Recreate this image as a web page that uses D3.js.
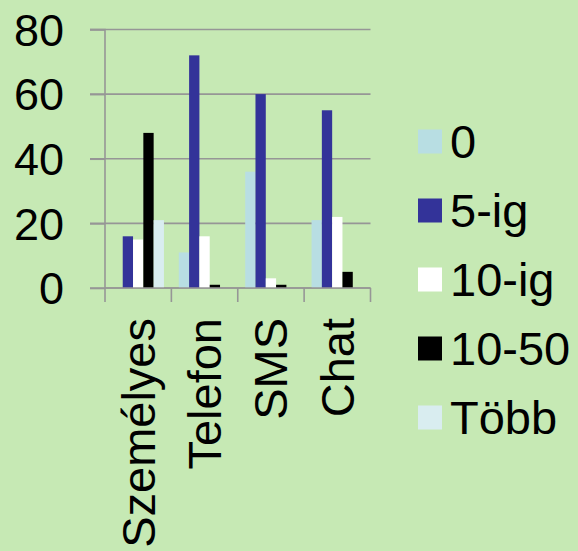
<!DOCTYPE html>
<html><head><meta charset="utf-8">
<script src="https://cdn.jsdelivr.net/npm/d3@7"></script>
<style>html,body{margin:0;padding:0;background:#c6e9b4;overflow:hidden}</style>
</head><body>
<svg id="c" width="578" height="551"></svg>
<script>
const categories = ["Személyes", "Telefon", "SMS", "Chat"];
const seriesNames = ["0", "5-ig", "10-ig", "10-50", "Több"];
const seriesColors = ["#b8dee3", "#333399", "#ffffff", "#000000", "#d9edf0"];
const values = {
  "0":     [0, 11, 36, 21],
  "5-ig":  [16, 72, 60, 55],
  "10-ig": [15, 16, 3, 22],
  "10-50": [48, 1, 1, 5],
  "Több":  [21, 0, 0, 0]
};
const yTicks = [0, 20, 40, 60, 80];

const svg = d3.select("#c");
svg.append("rect").attr("width",578).attr("height",551).attr("fill","#c6e9b4");
const pL = 105, pR = 370.5, pT = 29.5, pB = 288;
const x = d3.scaleBand().domain(categories).range([pL, pR]).paddingInner(0).paddingOuter(0);
const x1 = d3.scaleBand().domain(seriesNames).range([0, x.bandwidth()]).paddingOuter(0.72).paddingInner(0);
const y = d3.scaleLinear().domain([0, 80]).range([pB, pT]);
const font = "Liberation Sans, Arial, sans-serif";
const grid = "#969696";

// gridlines
svg.append("g").selectAll("line").data(yTicks).join("line")
  .attr("x1", pL - 15).attr("x2", pR).attr("y1", d => y(d)).attr("y2", d => y(d))
  .attr("stroke", grid).attr("stroke-width", 1.6);

// bars
const g = svg.append("g");
categories.forEach((c, i) => {
  seriesNames.forEach((s, j) => {
    const v = values[s][i];
    if (v <= 0) return;
    g.append("rect")
      .attr("x", x(c) + x1(s)).attr("width", x1.bandwidth())
      .attr("y", y(v)).attr("height", y(0) - y(v))
      .attr("fill", seriesColors[j]);
  });
});

// y axis
const ya = svg.append("g").attr("transform", `translate(${pL},0)`)
  .call(d3.axisLeft(y).tickValues(yTicks).tickSize(15).tickPadding(26).tickFormat(d3.format("d")));
ya.select(".domain").attr("stroke", grid).attr("stroke-width", 1.6).attr("d", `M-15,${pT}H0V${pB}`);
ya.selectAll(".tick line").attr("stroke", grid).attr("stroke-width", 1.6);
ya.selectAll("text").attr("font-family", font).attr("font-size", 45).attr("fill", "#000").attr("dy", "0.35em");

// x axis
const xa = svg.append("g").attr("transform", `translate(0,${pB})`)
  .call(d3.axisBottom(x).tickSize(0).tickPadding(0));
xa.select(".domain").remove();
const bounds = [pL].concat(categories.map(c => x(c) + x.bandwidth()));
xa.selectAll(".bnd").data(bounds).join("line").attr("class","bnd")
  .attr("x1", d => d).attr("x2", d => d).attr("y1", 0).attr("y2", 14)
  .attr("stroke", grid).attr("stroke-width", 1.6);
xa.append("line").attr("x1", pL).attr("x2", pR).attr("y1", 0).attr("y2", 0)
  .attr("stroke", grid).attr("stroke-width", 1.6);
xa.selectAll(".tick text")
  .attr("font-family", font).attr("font-size", 47).attr("fill", "#000")
  .attr("text-anchor", "end")
  .attr("transform", "translate(0,30) rotate(-90)")
  .attr("x", 0).attr("y", 0).attr("dy", "0.35em");

// legend
const lg = svg.append("g");
seriesNames.forEach((s, j) => {
  const cy = 141.5 + j * 69;
  lg.append("rect").attr("x", 418).attr("y", cy - 12).attr("width", 24).attr("height", 24).attr("fill", seriesColors[j]);
  lg.append("text").attr("x", 450).attr("y", cy).attr("dy", "0.35em")
    .attr("font-family", font).attr("font-size", 47).attr("fill", "#000").text(s);
});
</script>
</body></html>
